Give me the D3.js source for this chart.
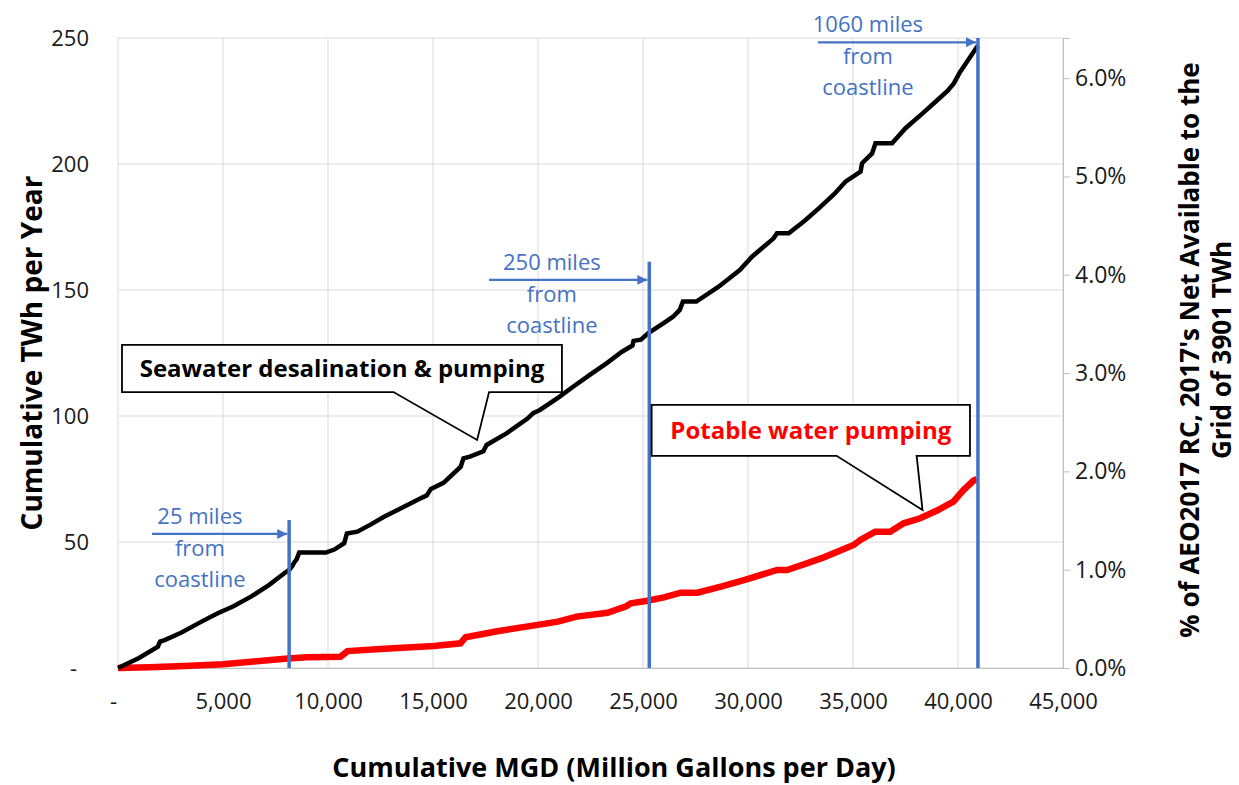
<!DOCTYPE html>
<html>
<head>
<meta charset="utf-8">
<script src="https://cdn.jsdelivr.net/npm/d3@7"></script>
<style>
  html, body { margin: 0; padding: 0; background: #fff; }
  svg { display: block; font-family: "Open Sans", "Noto Sans", sans-serif; }
</style>
</head>
<body>
<svg id="chart" width="1239" height="785"></svg>
<script>
// ---------------- DATA ----------------
const seawaterMGD = [0,1000,1900,2000,2220,3000,4000,4750,5500,6330,7200,7920,8150,8300,8400,8500,8630,9900,10300,10770,10900,11400,12000,12670,13500,14250,14700,14900,15500,16320,16450,16760,17400,17550,18500,19500,19770,20090,21000,21670,22500,23260,24000,24500,24550,24900,25240,26000,26430,26750,26900,27540,28600,29610,30190,31220,31380,31940,32700,33370,34100,34640,35360,35430,35910,36070,36860,37500,38300,38930,39500,39800,40100,40500,40830,40950];
const seawaterTWh = [0,4,8.5,10.5,11.1,14,18.5,21.7,24.5,28.3,33,37.6,38.9,40.5,42,43,45.8,45.8,47,49.5,53.4,54.1,56.8,60,63.5,66.7,68.5,71,73.5,79.9,83.2,83.9,86,88.5,93.1,99,101.1,102.4,107.5,111.6,116.5,120.9,125.5,128,129.8,130.3,132.8,137,139.4,142.1,145.4,145.4,151.3,157.9,163.2,170.5,172.5,172.5,177.5,182.4,188,193,197,200.3,204.2,208.2,208.2,214.2,220,224.7,229,232,236.5,241.5,245.5,247];

const potableMGD = [0,1500,3170,5000,6330,8080,9000,10600,10930,12500,15040,16310,16550,18000,19980,20950,21840,23310,24200,24420,25140,26000,26800,27590,28800,29810,31390,31860,32800,33610,35030,35350,36060,36770,37410,38200,39000,39780,40260,40730,40900];
const potableTWh = [0,0.3,0.8,1.5,2.5,3.8,4.3,4.5,6.7,7.5,8.7,9.8,12.2,14.5,17.1,18.4,20.4,21.9,24.5,25.7,26.6,28,29.9,29.9,32.5,34.9,38.9,38.9,41.5,43.9,48.8,50.8,54.1,54.1,57.4,59.4,62.5,66,70.6,74.3,75];

const xTicks = [0,5000,10000,15000,20000,25000,30000,35000,40000,45000];
const yTicks = [0,50,100,150,200,250];
const pctTicks = [0,1,2,3,4,5,6];
const gridTWh = 3901;

// distance markers (data units)
const distLabels = ["25 miles", "250 miles", "1060 miles"];
const distMGD = [8150, 25300, 40950];
const distLineTop = [58.7, 161.2, 250];
const distArrowStart = [1620, 17670, 33330];
const distArrowTWh = [53.2, 154, 248.3];
const distTextMGD = [3900, 20660, 35710];

// callouts (data units)
const calloutText = ["Seawater desalination & pumping", "Potable water pumping"];
const calloutColor = ["#000000", "#FF0000"];
const calloutX = [[190, 21140], [25410, 40570]];
const calloutY = [[128.2, 109.5], [104.4, 84.2]];
const calloutBase = [[13120, 17670], [34220, 38030]];
const calloutTip = [[17100, 90.5], [38310, 62.7]];

// ---------------- CHART ----------------
const svg = d3.select("#chart");
const L = 118, R = 1063, T = 38, B = 668;
const x = d3.scaleLinear().domain([0, 45000]).range([L, R]);
const y = d3.scaleLinear().domain([0, 250]).range([B, T]);
const y2 = d3.scaleLinear().domain([0, 250 / gridTWh * 100]).range([B, T]);

// gridlines
svg.append("g").selectAll("line").data(yTicks).join("line")
  .attr("x1", L).attr("x2", R).attr("y1", d => y(d)).attr("y2", d => y(d))
  .attr("stroke", "#d9d9d9").attr("stroke-width", 1);
svg.append("g").selectAll("line").data(xTicks).join("line")
  .attr("x1", d => x(d)).attr("x2", d => x(d)).attr("y1", T).attr("y2", B)
  .attr("stroke", "#d9d9d9").attr("stroke-width", 1);

// axes
const fmtX = d => d === 0 ? "-" : d3.format(",")(d);
const gx = svg.append("g").attr("transform", `translate(0,${B})`)
  .call(d3.axisBottom(x).tickValues(xTicks).tickFormat(fmtX).tickSize(0).tickPadding(25));
gx.select(".domain").attr("stroke", "#bfbfbf");
gx.selectAll("text").attr("font-size", 22).attr("fill", "#1a1a1a")
  .attr("font-family", "Open Sans").attr("dx", d => d === 0 ? -5 : 0);

const gy = svg.append("g").attr("transform", `translate(${L},0)`)
  .call(d3.axisLeft(y).tickValues(yTicks).tickFormat(d => d === 0 ? "-" : d).tickSize(0).tickPadding(29));
gy.select(".domain").remove();
gy.selectAll("text").attr("font-size", 22).attr("fill", "#1a1a1a")
  .attr("font-family", "Open Sans").attr("dx", d => d === 0 ? -12 : 0);

const gy2 = svg.append("g").attr("transform", `translate(${R},0)`)
  .call(d3.axisRight(y2).tickValues(pctTicks).tickFormat(d => d.toFixed(1) + "%").tickSize(7).tickPadding(5));
gy2.select(".domain").attr("stroke", "#bfbfbf");
gy2.selectAll(".tick line").attr("stroke", "#bfbfbf");
gy2.selectAll("text").attr("font-size", 23).attr("fill", "#1a1a1a").attr("font-family", "Open Sans");

// lines
const line = d3.line().x(d => x(d[0])).y(d => y(d[1]));
svg.append("path").datum(d3.zip(potableMGD, potableTWh))
  .attr("d", line).attr("fill", "none").attr("stroke", "#FF0000").attr("stroke-width", 6.5)
  .attr("stroke-linejoin", "miter");
svg.append("path").datum(d3.zip(seawaterMGD, seawaterTWh))
  .attr("d", line).attr("fill", "none").attr("stroke", "#000000").attr("stroke-width", 4.5)
  .attr("stroke-linejoin", "miter");

// distance markers
const blue = "#4472C4";
svg.append("defs").append("marker").attr("id", "arrow")
  .attr("viewBox", "0 0 10 10").attr("refX", 10).attr("refY", 5)
  .attr("markerWidth", 5).attr("markerHeight", 4.5).attr("orient", "auto")
  .attr("markerUnits", "strokeWidth")
  .append("path").attr("d", "M0,0 L10,5 L0,10 Z").attr("fill", blue);

distLabels.forEach((lab, i) => {
  const g = svg.append("g");
  g.append("line").attr("x1", x(distMGD[i])).attr("x2", x(distMGD[i]))
    .attr("y1", y(distLineTop[i])).attr("y2", B)
    .attr("stroke", blue).attr("stroke-width", 3.5);
  const ay = y(distArrowTWh[i]);
  g.append("line").attr("x1", x(distArrowStart[i])).attr("x2", x(distMGD[i]) - 2)
    .attr("y1", ay).attr("y2", ay)
    .attr("stroke", blue).attr("stroke-width", 2.2).attr("marker-end", "url(#arrow)");
  const tx = x(distTextMGD[i]);
  [[lab, -10], ["from", 22], ["coastline", 53]].forEach(([t, off]) => {
    g.append("text").attr("x", tx).attr("y", ay + off).attr("text-anchor", "middle")
      .attr("font-size", 22).attr("fill", blue).text(t);
  });
});

// callouts
calloutText.forEach((t, i) => {
  const x0 = x(calloutX[i][0]), x1 = x(calloutX[i][1]);
  const y0 = y(calloutY[i][0]), y1 = y(calloutY[i][1]);
  const b0 = x(calloutBase[i][0]), b1 = x(calloutBase[i][1]);
  const tx = x(calloutTip[i][0]), ty = y(calloutTip[i][1]);
  const p = d3.path();
  p.moveTo(x0, y0); p.lineTo(x1, y0); p.lineTo(x1, y1); p.lineTo(b1, y1);
  p.lineTo(tx, ty); p.lineTo(b0, y1); p.lineTo(x0, y1); p.closePath();
  svg.append("path").attr("d", p.toString()).attr("fill", "#fff")
    .attr("stroke", "#000").attr("stroke-width", 1.8);
  svg.append("text").attr("x", (x0 + x1) / 2).attr("y", (y0 + y1) / 2 + 9)
    .attr("text-anchor", "middle").attr("font-size", 24).attr("font-weight", "bold")
    .attr("fill", calloutColor[i]).text(t);
});

// axis titles
svg.append("text").attr("transform", `translate(42,353) rotate(-90)`)
  .attr("text-anchor", "middle").attr("font-size", 28).attr("font-weight", "bold")
  .attr("fill", "#000").text("Cumulative TWh per Year");
svg.append("text").attr("x", 614).attr("y", 777)
  .attr("text-anchor", "middle").attr("font-size", 27).attr("font-weight", "bold")
  .attr("fill", "#000").text("Cumulative MGD (Million Gallons per Day)");
svg.append("text").attr("transform", `translate(1199,350) rotate(-90)`)
  .attr("text-anchor", "middle").attr("font-size", 26).attr("font-weight", "bold")
  .attr("fill", "#000").text("% of AEO2017 RC, 2017's Net Available to the");
svg.append("text").attr("transform", `translate(1231,350) rotate(-90)`)
  .attr("text-anchor", "middle").attr("font-size", 26).attr("font-weight", "bold")
  .attr("fill", "#000").text("Grid of 3901 TWh");
</script>
</body>
</html>
